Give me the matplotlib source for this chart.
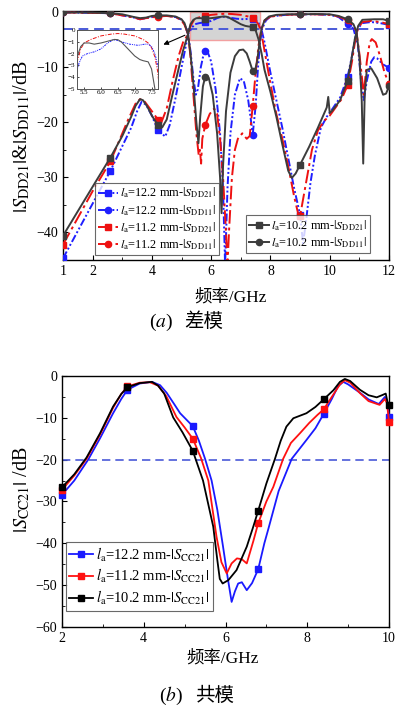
import matplotlib
matplotlib.use("Agg")
import matplotlib.pyplot as plt
from matplotlib.patches import Rectangle
from matplotlib.lines import Line2D

plt.rcParams['font.family'] = ['Liberation Serif', 'Noto Sans CJK SC']
plt.rcParams['mathtext.fontset'] = 'stix'
plt.rcParams['axes.unicode_minus'] = True

# ---------------- data: differential mode (top) ----------------
dd21_122_f = [1.0, 2.6, 3.3, 3.5, 3.65, 3.8, 4.0, 4.2, 4.45, 4.6, 4.8, 5.0, 5.15, 5.22, 5.3, 5.35, 5.45, 5.6,
              5.8, 6.0, 6.2, 6.35, 6.45, 6.6, 6.85, 7.1, 7.3, 7.4, 7.5, 7.6, 7.7, 7.8, 8.0, 8.2, 8.4, 8.6,
              8.8, 9.0, 9.1, 9.2, 9.35, 9.5, 9.7, 9.9, 10.1, 10.35, 10.6, 10.75, 10.85, 10.95, 11.1, 11.4,
              11.7, 12.0]
dd21_122_db = [-44.7, -28.8, -21.0, -18.0, -16.3, -16.8, -18.8, -21.4, -22.6, -20.5, -15.5, -10.0, -6.0, -4.0,
               -3.3, -2.8, -2.2, -2.0, -1.85, -1.6, -1.1, -0.85, -0.85, -1.0, -1.2, -1.3, -1.2, -1.2, -1.4,
               -2.0, -3.2, -5.5, -11.0, -16.0, -21.0, -26.5, -32.0, -36.8, -42.0, -38.0, -31.0, -26.0, -21.0,
               -19.0, -17.5, -15.5, -11.8, -8.0, -5.0, -3.0, -2.0, -1.8, -2.0, -2.3]

dd11_122_f = [1.0, 2.6, 3.4, 3.6, 3.8, 4.2, 4.5, 4.8, 5.0, 5.1, 5.22, 5.3, 5.4, 5.48, 5.55, 5.65, 5.75, 5.8,
              5.9, 6.0, 6.15, 6.3, 6.4, 6.47, 6.55, 6.65, 6.8, 6.97, 7.1, 7.25, 7.35, 7.4, 7.5, 7.58, 7.65,
              7.72, 7.85, 8.0, 8.5, 9.0, 9.5, 10.0, 10.3, 10.6, 10.8, 10.95, 11.05, 11.15, 11.25, 11.4, 11.5,
              11.6, 11.8, 12.0]
dd11_122_db = [-0.05, -0.2, -1.0, -1.3, -1.1, -0.7, -0.7, -0.9, -1.4, -2.2, -4.0, -7.0, -12.0, -15.0, -14.0,
               -10.0, -7.5, -7.0, -7.5, -9.0, -14.0, -22.0, -32.0, -46.0, -32.0, -22.0, -15.0, -12.0, -12.5,
               -16.0, -20.0, -22.3, -17.0, -10.0, -5.5, -3.0, -1.5, -0.8, -0.5, -0.4, -0.4, -0.5, -0.9, -2.2,
               -3.0, -6.0, -12.0, -16.0, -12.5, -9.0, -8.2, -8.4, -9.5, -10.1]

dd21_112_f = [1.0, 2.0, 2.6, 3.2, 3.45, 3.6, 3.75, 4.0, 4.2, 4.32, 4.5, 4.7, 4.9, 5.05, 5.22, 5.3, 5.4, 5.5,
              5.7, 5.8, 6.0, 6.3, 6.5, 6.7, 7.0, 7.25, 7.4, 7.5, 7.6, 7.68, 7.75, 7.85, 8.0, 8.2, 8.4, 8.6,
              8.8, 8.97, 9.0, 9.2, 9.4, 9.6, 9.8, 10.0, 10.2, 10.4, 10.6, 10.75, 10.85, 10.95, 11.1, 11.4,
              11.7, 12.0]
dd21_112_db = [-42.2, -32.5, -27.1, -19.5, -16.6, -15.8, -16.2, -18.0, -19.5, -20.0, -17.5, -12.5, -8.0, -5.5,
               -4.0, -2.6, -1.6, -1.1, -0.8, -0.7, -0.5, -0.35, -0.3, -0.35, -0.5, -0.8, -1.1, -1.5, -2.3,
               -3.5, -5.5, -8.5, -13.0, -18.5, -23.0, -28.0, -33.5, -37.4, -37.0, -31.0, -25.0, -21.5, -19.8,
               -18.8, -17.3, -15.8, -13.3, -9.0, -5.5, -3.0, -1.8, -1.6, -1.8, -2.2]

dd11_112_f = [1.0, 2.6, 3.4, 3.6, 3.8, 4.2, 4.5, 4.8, 5.0, 5.1, 5.22, 5.3, 5.4, 5.5, 5.58, 5.62, 5.66, 5.7,
              5.8, 5.95, 6.1, 6.2, 6.3, 6.4, 6.5, 6.55, 6.6, 6.7, 6.8, 6.9, 7.05, 7.2, 7.3, 7.4, 7.5, 7.6,
              7.68, 7.8, 8.0, 8.5, 9.0, 9.5, 10.0, 10.3, 10.6, 10.8, 10.9, 11.0, 11.15, 11.25, 11.35, 11.42,
              11.55, 11.7, 11.85, 12.0]
dd11_112_db = [-0.05, -0.2, -1.0, -1.3, -1.1, -0.8, -0.7, -0.9, -1.5, -2.3, -4.0, -8.0, -15.0, -22.0, -26.0,
               -25.0, -27.5, -23.0, -20.5, -18.5, -17.5, -18.5, -23.0, -30.0, -40.0, -46.0, -40.0, -30.0,
               -25.0, -23.0, -22.0, -23.0, -22.5, -17.1, -11.0, -6.0, -3.5, -1.5, -0.8, -0.5, -0.4, -0.4,
               -0.5, -0.8, -1.5, -2.5, -3.5, -7.5, -15.0, -9.0, -5.5, -4.9, -5.5, -8.0, -11.0, -13.0]

dd21_102_f = [1.0, 2.0, 2.6, 3.0, 3.3, 3.45, 3.6, 3.7, 3.85, 4.0, 4.2, 4.35, 4.5, 4.7, 4.9, 5.05, 5.22, 5.3,
              5.4, 5.5, 5.65, 5.8, 6.0, 6.2, 6.4, 6.5, 6.6, 6.8, 7.0, 7.15, 7.25, 7.4, 7.5, 7.6, 7.7, 7.8,
              8.0, 8.2, 8.4, 8.6, 8.72, 8.85, 9.0, 9.3, 9.6, 9.9, 9.95, 10.0, 10.1, 10.35, 10.6, 10.75,
              10.85, 10.96, 11.1, 11.5, 11.8, 12.0]
dd21_102_db = [-40.6, -31.7, -26.4, -22.5, -19.0, -17.0, -15.8, -16.0, -17.2, -18.8, -20.5, -20.9, -19.5,
               -14.8, -10.3, -7.0, -4.0, -2.2, -1.4, -1.1, -1.1, -1.2, -1.1, -0.95, -0.8, -0.82, -1.0, -1.6,
               -2.2, -2.5, -2.6, -2.7, -3.3, -5.0, -7.5, -10.5, -14.5, -19.0, -24.0, -28.8, -30.1, -29.3,
               -27.7, -24.5, -21.0, -17.3, -15.4, -18.3, -17.8, -16.0, -12.5, -8.0, -4.8, -2.5, -1.4, -1.3,
               -1.3, -1.6]

dd11_102_f = [1.0, 2.0, 2.6, 3.0, 3.4, 3.6, 3.8, 4.0, 4.2, 4.5, 4.8, 5.0, 5.1, 5.22, 5.3, 5.4, 5.5, 5.57,
              5.63, 5.72, 5.8, 5.85, 5.92, 6.05, 6.2, 6.3, 6.35, 6.4, 6.5, 6.65, 6.8, 6.95, 7.08, 7.2, 7.3,
              7.4, 7.45, 7.55, 7.62, 7.7, 7.8, 7.95, 8.2, 8.6, 9.0, 9.5, 10.0, 10.3, 10.6, 10.8, 10.9, 11.0,
              11.08, 11.13, 11.18, 11.25, 11.4, 11.6, 11.8, 11.9, 12.0]
dd11_102_db = [-0.05, -0.1, -0.2, -0.4, -0.9, -1.1, -1.0, -0.7, -0.6, -0.6, -0.8, -1.3, -2.0, -4.0, -7.5,
               -13.0, -20.0, -23.8, -19.0, -13.5, -11.7, -11.5, -12.0, -15.0, -22.0, -30.0, -36.5, -28.0,
               -18.0, -11.0, -8.0, -6.9, -6.8, -7.5, -9.0, -10.7, -11.2, -9.0, -6.0, -3.0, -1.5, -0.8, -0.5,
               -0.4, -0.4, -0.35, -0.4, -0.7, -1.3, -2.2, -3.5, -8.0, -16.0, -27.5, -15.0, -10.5, -10.2,
               -12.0, -15.0, -14.8, -13.5]

dd_marker_f = [1.0, 2.6, 4.2, 5.8, 7.4, 9.0, 10.6, 12.0]

# ---------------- data: common mode (bottom) ----------------
cc21_122_f = [2.0, 2.3, 2.64, 2.93, 3.25, 3.45, 3.6, 3.9, 4.2, 4.4, 4.56, 4.75, 4.89, 5.05, 5.2, 5.35, 5.5,
              5.66, 5.8, 5.94, 6.05, 6.15, 6.23, 6.31, 6.4, 6.52, 6.65, 6.8, 6.95, 7.05, 7.3, 7.62, 7.98,
              8.2, 8.4, 8.6, 8.75, 8.88, 9.0, 9.29, 9.5, 9.75, 9.9, 9.96, 10.0]
cc21_122_db = [-28.4, -25.0, -20.0, -14.9, -8.9, -5.5, -3.3, -1.8, -1.4, -2.2, -4.0, -6.8, -8.9, -10.5,
               -12.0, -15.5, -19.8, -25.0, -32.0, -40.8, -48.0, -54.0, -51.5, -49.6, -49.3, -51.2, -49.5,
               -46.2, -40.0, -36.5, -27.5, -19.8, -15.3, -12.5, -9.1, -5.5, -2.5, -1.4, -2.0, -4.0, -5.6,
               -6.7, -5.0, -6.5, -9.8]

cc21_112_f = [2.0, 2.3, 2.6, 2.93, 3.25, 3.45, 3.6, 3.9, 4.15, 4.35, 4.55, 4.8, 5.0, 5.2, 5.4, 5.58, 5.78,
              5.9, 6.03, 6.15, 6.28, 6.4, 6.52, 6.68, 6.8, 7.0, 7.17, 7.41, 7.6, 7.82, 8.05, 8.25, 8.4, 8.6,
              8.8, 8.92, 9.05, 9.29, 9.5, 9.77, 9.9, 9.95, 10.0]
cc21_112_db = [-27.2, -23.8, -19.8, -14.0, -7.6, -4.3, -2.5, -1.6, -1.5, -2.3, -4.8, -9.8, -12.3, -15.0,
               -19.6, -25.0, -38.4, -44.5, -47.2, -44.8, -43.6, -43.8, -44.8, -39.5, -35.2, -30.0, -26.5,
               -19.8, -16.0, -13.7, -11.2, -9.3, -8.0, -5.0, -2.0, -1.0, -1.6, -4.1, -6.0, -6.9, -5.5, -6.5,
               -10.9]

cc21_102_f = [2.0, 2.3, 2.6, 2.93, 3.25, 3.45, 3.6, 3.9, 4.2, 4.35, 4.5, 4.72, 4.95, 5.2, 5.45, 5.7, 5.8,
              5.86, 5.93, 6.07, 6.27, 6.52, 6.68, 6.8, 7.0, 7.21, 7.35, 7.49, 7.66, 7.98, 8.2, 8.4, 8.64,
              8.8, 8.92, 9.05, 9.29, 9.5, 9.7, 9.85, 9.92, 9.97, 10.0]
cc21_102_db = [-26.6, -23.5, -19.5, -13.7, -7.3, -4.3, -2.7, -1.7, -1.4, -2.3, -4.2, -9.9, -13.5, -17.9,
               -25.0, -36.0, -44.0, -48.5, -49.6, -48.8, -46.4, -40.8, -36.0, -32.2, -25.7, -19.8, -15.5,
               -12.1, -10.1, -8.9, -7.4, -5.6, -3.4, -1.4, -0.7, -1.2, -3.3, -4.6, -5.1, -4.5, -4.2, -6.5,
               -7.0]

cc_marker_f = [2.0, 3.6, 5.2, 6.8, 8.4, 10.0]

# labels
dd_labels = [r'$l_{\rm a}$=12.2 mm-$|S_{\rm DD21}|$', r'$l_{\rm a}$=12.2 mm-$|S_{\rm DD11}|$',
             r'$l_{\rm a}$=11.2 mm-$|S_{\rm DD21}|$', r'$l_{\rm a}$=11.2 mm-$|S_{\rm DD11}|$',
             r'$l_{\rm a}$=10.2 mm-$|S_{\rm DD21}|$', r'$l_{\rm a}$=10.2 mm-$|S_{\rm DD11}|$']
cc_labels = [r'$l_{\rm a}$=12.2 mm-$|S_{\rm CC21}|$', r'$l_{\rm a}$=11.2 mm-$|S_{\rm CC21}|$',
             r'$l_{\rm a}$=10.2 mm-$|S_{\rm CC21}|$']

BLUE = '#1f1fff'
RED = '#ee1111'
GRAY = '#3c3c3c'
ls_blue = (0, (4, 1.2, 1, 1.2, 1, 1.2))
ls_red = (0, (7, 2, 1.5, 2))


def mk(fs, marks):
    return [fs.index(m) for m in marks if m in fs]


fig = plt.figure(figsize=(3.98, 7.09), dpi=100)

# ================= top axes =================
ax = fig.add_axes([63 / 398, 1 - 260 / 709, 326 / 398, 249 / 709])
ax.set_xlim(1, 12)
ax.set_ylim(-45, 0.2)

series = [
    (dd21_122_f, dd21_122_db, BLUE, ls_blue, 's'),
    (dd11_122_f, dd11_122_db, BLUE, ls_blue, 'o'),
    (dd21_112_f, dd21_112_db, RED, ls_red, 's'),
    (dd11_112_f, dd11_112_db, RED, ls_red, 'o'),
    (dd21_102_f, dd21_102_db, GRAY, '-', 's'),
    (dd11_102_f, dd11_102_db, GRAY, '-', 'o'),
]
lines = []
for (f, d, c, ls, m), lab in zip(series, dd_labels):
    ln, = ax.plot(f, d, color=c, ls=ls, lw=1.4, marker=m, ms=4.5, markevery=mk(f, dd_marker_f),
                  label=lab, zorder=3, clip_on=True)
    lines.append(ln)

ax.axhline(-3, color='#4a5ad8', ls=(0, (5, 3)), lw=1.4, zorder=2)
ax.add_patch(Rectangle((5.3, -5), 2.35, 5, facecolor='#d4d4d4', edgecolor='#f2a0a0', lw=1.0, zorder=1))
ax.annotate('', xy=(4.3, -6.1), xytext=(5.2, -4.0),
            arrowprops=dict(arrowstyle='-|>', color='black', lw=0.8, mutation_scale=7), zorder=5)

ax.set_xticks([1, 2, 4, 6, 8, 10, 12])
ax.set_xticks([3, 5, 7, 9, 11], minor=True)
ax.set_yticks([-40, -30, -20, -10, 0])
ax.set_yticks([-45, -35, -25, -15, -5], minor=True)
ax.tick_params(direction='in', which='both', labelsize=10, top=False, right=False)
ax.tick_params(which='major', length=3.5)
ax.tick_params(which='minor', length=2)
for s in ax.spines.values():
    s.set_linewidth(1.0)

leg1 = ax.legend(handles=lines[:4], loc='lower left', bbox_to_anchor=(95 / 398, 1 - 255 / 709),
                 bbox_transform=fig.transFigure, fontsize=8.8, frameon=True, fancybox=False,
                 edgecolor='#444444', handlelength=1.6, handletextpad=0.2, borderpad=0.25,
                 labelspacing=0.22, borderaxespad=0)
leg1.get_frame().set_linewidth(0.8)
ax.add_artist(leg1)
leg2 = ax.legend(handles=lines[4:], loc='lower left', bbox_to_anchor=(246 / 398, 1 - 253 / 709),
                 bbox_transform=fig.transFigure, fontsize=8.8, frameon=True, fancybox=False,
                 edgecolor='#444444', handlelength=1.6, handletextpad=0.2, borderpad=0.25,
                 labelspacing=0.22, borderaxespad=0)
leg2.get_frame().set_linewidth(0.8)

# inset
axi = fig.add_axes([76.7 / 398, 1 - 89 / 709, 81.6 / 398, 59 / 709])
axi.plot(dd21_112_f, dd21_112_db, color=RED, ls=(0, (4, 1.5, 1, 1.5)), lw=0.7)
axi.plot(dd21_122_f, dd21_122_db, color=BLUE, ls=(0, (2, 1, 1, 1, 1, 1)), lw=0.7)
axi.plot(dd21_102_f, dd21_102_db, color='#555555', ls='-', lw=0.8)
axi.set_xlim(5.28, 7.7)
axi.set_ylim(-5, 0)
axi.set_xticks([5.5, 6.0, 6.5, 7.0, 7.5])
axi.set_xticklabels(['5.5', '6.0', '6.5', '7.0', '7.5'])
axi.set_yticks([0, -1, -2, -3, -4, -5])
axi.tick_params(direction='in', labelsize=5, length=1.5, pad=1, width=0.5)
for s in axi.spines.values():
    s.set_linewidth(0.7)
    s.set_color('#555555')

fig.text(22 / 398, 1 - 137 / 709, r'$|S_{\rm DD21}|$&$|S_{\rm DD11}|$/dB', rotation=90,
         ha='center', va='center', fontsize=14.5)
fig.text(231 / 398, 1 - 297 / 709, '频率/GHz', ha='center', va='center', fontsize=12.5)
fig.text(173 / 398, 1 - 322 / 709, r'($a$)', ha='right', va='center', fontsize=14)
fig.text(184 / 398, 1 - 322 / 709, '差模', ha='left', va='center', fontsize=14)

# ================= bottom axes =================
bx = fig.add_axes([62 / 398, 1 - 627 / 709, 327 / 398, 251 / 709])
bx.set_xlim(2, 10)
bx.set_ylim(-60, 0)
cc_series = [
    (cc21_122_f, cc21_122_db, '#1a1aff'),
    (cc21_112_f, cc21_112_db, '#ff1111'),
    (cc21_102_f, cc21_102_db, '#000000'),
]
blines = []
for (f, d, c), lab in zip(cc_series, cc_labels):
    ln, = bx.plot(f, d, color=c, lw=1.3, marker='s', ms=4.5, markevery=mk(f, cc_marker_f), label=lab,
                  zorder=3, clip_on=False)
    blines.append(ln)
bx.axhline(-20, color='#4a5ad8', ls=(0, (5, 3)), lw=1.2, zorder=2)
bx.set_xticks([2, 4, 6, 8, 10])
bx.set_xticks([3, 5, 7, 9], minor=True)
bx.set_yticks([-60, -50, -40, -30, -20, -10, 0])
bx.set_yticks([-55, -45, -35, -25, -15, -5], minor=True)
bx.tick_params(direction='in', which='both', labelsize=10, top=False, right=False)
bx.tick_params(which='major', length=3.5)
bx.tick_params(which='minor', length=2)
for s in bx.spines.values():
    s.set_linewidth(1.0)
leg3 = bx.legend(handles=blines, loc='lower left', bbox_to_anchor=(65.7 / 398, 1 - 610.7 / 709),
                 bbox_transform=fig.transFigure, fontsize=10.5, frameon=True, fancybox=False,
                 edgecolor='#444444', handlelength=1.6, handletextpad=0.2, borderpad=0.25,
                 labelspacing=0.25, borderaxespad=0)
leg3.get_frame().set_linewidth(0.8)

fig.text(22 / 398, 1 - 490 / 709, r'$|S_{\rm CC21}|$ /dB', rotation=90, ha='center', va='center',
         fontsize=14.5)
fig.text(223 / 398, 1 - 658 / 709, '频率/GHz', ha='center', va='center', fontsize=12.5)
fig.text(183 / 398, 1 - 696 / 709, r'($b$)', ha='right', va='center', fontsize=14)
fig.text(195 / 398, 1 - 696 / 709, '共模', ha='left', va='center', fontsize=14)

fig.savefig('out.png', dpi=100)
